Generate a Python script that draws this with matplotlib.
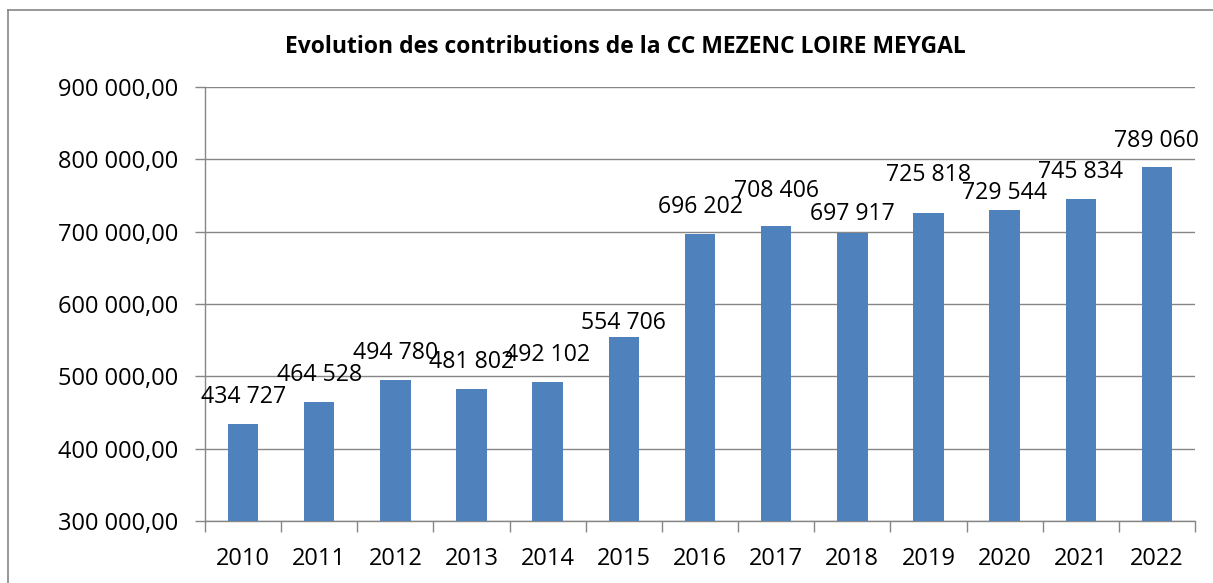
import matplotlib
matplotlib.use("Agg")
import matplotlib.pyplot as plt
from matplotlib.ticker import FuncFormatter, FixedLocator, NullFormatter
from matplotlib.lines import Line2D

years = ["2010", "2011", "2012", "2013", "2014", "2015", "2016",
         "2017", "2018", "2019", "2020", "2021", "2022"]
contributions = [434727, 464528, 494780, 481802, 492102, 554706, 696202,
                 708406, 697917, 725818, 729544, 745834, 789060]
title = "Evolution des contributions de la CC MEZENC LOIRE MEYGAL"

# vertical offset (pixels) of each value label above its bar
label_offsets = [27, 27, 27, 27, 27, 14, 27, 35, 19, 38, 17, 27, 26]

plt.rcParams['font.family'] = ['Open Sans', 'DejaVu Sans']

W, H = 1213, 583
fig = plt.figure(figsize=(W / 100, H / 100), dpi=100)
ax = fig.add_axes([205 / W, 1 - 521 / H, (1195 - 205) / W, (521 - 87) / H])

grid_c = "#868686"
bar_c = "#4F81BD"

x = list(range(len(years)))
bars = ax.bar(x, contributions, width=0.4, color=bar_c, zorder=3)

ax.set_ylim(300000, 900000)
ax.set_xlim(-0.5, len(years) - 0.5)

ax.set_yticks(range(300000, 900001, 100000))
ax.yaxis.set_major_formatter(FuncFormatter(
    lambda v, p: f"{int(v):,}".replace(",", " ") + ",00"))
ax.tick_params(axis='y', length=7, width=1, color=grid_c, pad=12,
               labelsize=17)
ax.yaxis.grid(True, color=grid_c, linewidth=1, zorder=0)
ax.set_axisbelow(True)

ax.set_xticks(x)
ax.set_xticklabels(years)
ax.tick_params(axis='x', which='major', length=0, pad=19, labelsize=17)
ax.xaxis.set_minor_locator(FixedLocator([i - 0.5 for i in range(len(years) + 1)]))
ax.xaxis.set_minor_formatter(NullFormatter())
ax.tick_params(axis='x', which='minor', length=8, width=1, color=grid_c)

for s in ("top", "right"):
    ax.spines[s].set_visible(False)
for s in ("left", "bottom"):
    ax.spines[s].set_color(grid_c)
    ax.spines[s].set_linewidth(1)

for xi, v, off in zip(x, contributions, label_offsets):
    ax.annotate(f"{v:,}".replace(",", " "), xy=(xi, v),
                xytext=(0, off), textcoords="offset pixels",
                ha="center", va="center", fontsize=16.7, zorder=4)

fig.text(625 / W, 1 - 47 / H, title, ha="center", va="center",
         fontsize=16.5, fontweight="bold")

fig.add_artist(Line2D([8 / W, 8 / W], [0, 1 - 10 / H], transform=fig.transFigure,
                      color=grid_c, linewidth=1.2))
fig.add_artist(Line2D([8 / W, 1], [1 - 10 / H, 1 - 10 / H], transform=fig.transFigure,
                      color=grid_c, linewidth=1.2))

fig.savefig("out.png", dpi=100)
